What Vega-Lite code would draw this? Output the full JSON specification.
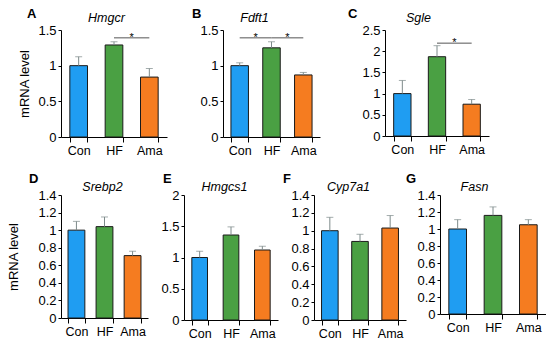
{
  "$schema": "https://vega.github.io/schema/vega-lite/v6.json",
  "padding": {"left": 7, "top": 8, "right": 0, "bottom": 0},
  "spacing": 16,
  "config": {
    "font": "Liberation Sans",
    "view": {"stroke": null},
    "concat": {"spacing": 0},
    "axis": {"grid": false, "domainColor": "#000", "tickColor": "#000", "labelColor": "#000", "titleColor": "#000"},
    "axisY": {"labelFontSize": 13, "tickSize": 3, "labelPadding": 2, "titleFontSize": 13, "titleFontWeight": "normal", "titlePadding": 4},
    "axisX": {"labelFontSize": 12.5, "tickSize": 5, "labelPadding": 2, "labelAngle": 0, "titleFontSize": 12.5, "titleFontStyle": "italic", "titleFontWeight": "normal", "titlePadding": 6},
    "title": {"fontSize": 13, "fontWeight": "bold", "anchor": "start", "frame": "group", "color": "#000"}
  },
  "datasets": {
    "bars": [
      {"panel": "A", "group": "Con", "mean": 1.0, "err": 1.125},
      {"panel": "A", "group": "HF", "mean": 1.29, "err": 1.335},
      {"panel": "A", "group": "Ama", "mean": 0.84, "err": 0.96},
      {"panel": "B", "group": "Con", "mean": 1.0, "err": 1.04},
      {"panel": "B", "group": "HF", "mean": 1.25, "err": 1.335},
      {"panel": "B", "group": "Ama", "mean": 0.87, "err": 0.905},
      {"panel": "C", "group": "Con", "mean": 1.0, "err": 1.31},
      {"panel": "C", "group": "HF", "mean": 1.87, "err": 2.13},
      {"panel": "C", "group": "Ama", "mean": 0.75, "err": 0.86},
      {"panel": "D", "group": "Con", "mean": 1.0, "err": 1.1},
      {"panel": "D", "group": "HF", "mean": 1.04, "err": 1.15},
      {"panel": "D", "group": "Ama", "mean": 0.71, "err": 0.76},
      {"panel": "E", "group": "Con", "mean": 1.0, "err": 1.1},
      {"panel": "E", "group": "HF", "mean": 1.36, "err": 1.49},
      {"panel": "E", "group": "Ama", "mean": 1.12, "err": 1.18},
      {"panel": "F", "group": "Con", "mean": 1.0, "err": 1.15},
      {"panel": "F", "group": "HF", "mean": 0.88, "err": 0.96},
      {"panel": "F", "group": "Ama", "mean": 1.03, "err": 1.17},
      {"panel": "G", "group": "Con", "mean": 1.0, "err": 1.11},
      {"panel": "G", "group": "HF", "mean": 1.16, "err": 1.26},
      {"panel": "G", "group": "Ama", "mean": 1.05, "err": 1.11}
    ],
    "sig": [
      {"panel": "A", "from": "HF", "to": "Ama", "level": 1.39, "star": "*"},
      {"panel": "B", "from": "Con", "to": "HF", "level": 1.39, "star": "*"},
      {"panel": "B", "from": "HF", "to": "Ama", "level": 1.39, "star": "*"},
      {"panel": "C", "from": "HF", "to": "Ama", "level": 2.19, "star": "*"}
    ]
  },
  "vconcat": [
    {
      "hconcat": [
        {
          "width": 106, "height": 107,
          "title": {"text": "A", "dx": -34, "dy": 14},
          "layer": [
            {"data": {"name": "bars"}, "transform": [{"filter": "datum.panel === 'A'"}],
             "mark": {"type": "bar", "stroke": "#1a1a1a", "strokeWidth": 1},
             "encoding": {
               "x": {"field": "group", "type": "nominal", "scale": {"domain": ["Con", "HF", "Ama"], "paddingInner": 0.5, "paddingOuter": 0.25}, "axis": {"orient": "bottom", "title": null, "tickBand": "extent"}},
               "y": {"field": "mean", "type": "quantitative", "scale": {"domain": [0, 1.5], "nice": false}, "axis": {"values": [0, 0.5, 1, 1.5], "format": "~f", "title": "mRNA level", "minExtent": 26}},
               "color": {"field": "group", "type": "nominal", "scale": {"domain": ["Con", "HF", "Ama"], "range": ["#1f9df2", "#4aa043", "#f57c20"]}, "legend": null}
             }},
            {"data": {"name": "bars"}, "transform": [{"filter": "datum.panel === 'A'"}],
             "mark": {"type": "rule", "color": "#7d8a8a"},
             "encoding": {
               "x": {"field": "group", "type": "nominal", "axis": {"orient": "top", "title": "Hmgcr", "labels": false, "ticks": false, "domain": false, "titleX": 45}},
               "y": {"field": "mean", "type": "quantitative", "axis": null},
               "y2": {"field": "err"}
             }},
            {"data": {"name": "bars"}, "transform": [{"filter": "datum.panel === 'A'"}],
             "mark": {"type": "tick", "color": "#7d8a8a", "size": 7, "thickness": 1},
             "encoding": {
               "x": {"field": "group", "type": "nominal", "axis": null},
               "y": {"field": "err", "type": "quantitative", "axis": null}
             }},
            {"data": {"name": "sig"}, "transform": [{"filter": "datum.panel === 'A'"}],
             "mark": {"type": "rule", "color": "#555"},
             "encoding": {
               "x": {"field": "from", "type": "nominal", "axis": null},
               "x2": {"field": "to"},
               "y": {"field": "level", "type": "quantitative", "axis": null}
             }},
            {"data": {"name": "sig"}, "transform": [{"filter": "datum.panel === 'A'"}],
             "mark": {"type": "text", "fontSize": 11, "color": "#000"},
             "encoding": {
               "x": {"field": "from", "type": "nominal", "bandPosition": 1.5, "axis": null},
               "y": {"field": "level", "type": "quantitative", "axis": null},
               "text": {"field": "star"}
             }}
          ],
          "resolve": {"axis": {"x": "independent", "y": "independent"}}
        },
        {
          "width": 97, "height": 107,
          "title": {"text": "B", "dx": -31, "dy": 14},
          "layer": [
            {"data": {"name": "bars"}, "transform": [{"filter": "datum.panel === 'B'"}],
             "mark": {"type": "bar", "stroke": "#1a1a1a", "strokeWidth": 1},
             "encoding": {
               "x": {"field": "group", "type": "nominal", "scale": {"domain": ["Con", "HF", "Ama"], "paddingInner": 0.45, "paddingOuter": 0.25}, "axis": {"orient": "bottom", "title": null, "tickBand": "extent"}},
               "y": {"field": "mean", "type": "quantitative", "scale": {"domain": [0, 1.5], "nice": false}, "axis": {"values": [0, 0.5, 1, 1.5], "format": "~f", "title": null, "minExtent": 56}},
               "color": {"field": "group", "type": "nominal", "scale": {"domain": ["Con", "HF", "Ama"], "range": ["#1f9df2", "#4aa043", "#f57c20"]}, "legend": null}
             }},
            {"data": {"name": "bars"}, "transform": [{"filter": "datum.panel === 'B'"}],
             "mark": {"type": "rule", "color": "#7d8a8a"},
             "encoding": {
               "x": {"field": "group", "type": "nominal", "axis": {"orient": "top", "title": "Fdft1", "labels": false, "ticks": false, "domain": false, "titleX": 31}},
               "y": {"field": "mean", "type": "quantitative", "axis": null},
               "y2": {"field": "err"}
             }},
            {"data": {"name": "bars"}, "transform": [{"filter": "datum.panel === 'B'"}],
             "mark": {"type": "tick", "color": "#7d8a8a", "size": 7, "thickness": 1},
             "encoding": {
               "x": {"field": "group", "type": "nominal", "axis": null},
               "y": {"field": "err", "type": "quantitative", "axis": null}
             }},
            {"data": {"name": "sig"}, "transform": [{"filter": "datum.panel === 'B'"}],
             "mark": {"type": "rule", "color": "#555"},
             "encoding": {
               "x": {"field": "from", "type": "nominal", "axis": null},
               "x2": {"field": "to"},
               "y": {"field": "level", "type": "quantitative", "axis": null}
             }},
            {"data": {"name": "sig"}, "transform": [{"filter": "datum.panel === 'B'"}],
             "mark": {"type": "text", "fontSize": 11, "color": "#000"},
             "encoding": {
               "x": {"field": "from", "type": "nominal", "bandPosition": 1.41, "axis": null},
               "y": {"field": "level", "type": "quantitative", "axis": null},
               "text": {"field": "star"}
             }}
          ],
          "resolve": {"axis": {"x": "independent", "y": "independent"}}
        },
        {
          "width": 104, "height": 106,
          "title": {"text": "C", "dx": -37, "dy": 14},
          "layer": [
            {"data": {"name": "bars"}, "transform": [{"filter": "datum.panel === 'C'"}],
             "mark": {"type": "bar", "stroke": "#1a1a1a", "strokeWidth": 1},
             "encoding": {
               "x": {"field": "group", "type": "nominal", "scale": {"domain": ["Con", "HF", "Ama"], "paddingInner": 0.5, "paddingOuter": 0.25}, "axis": {"orient": "bottom", "title": null, "tickBand": "extent"}},
               "y": {"field": "mean", "type": "quantitative", "scale": {"domain": [0, 2.5], "nice": false}, "axis": {"values": [0, 0.5, 1, 1.5, 2, 2.5], "format": "~f", "title": null, "minExtent": 65}},
               "color": {"field": "group", "type": "nominal", "scale": {"domain": ["Con", "HF", "Ama"], "range": ["#1f9df2", "#4aa043", "#f57c20"]}, "legend": null}
             }},
            {"data": {"name": "bars"}, "transform": [{"filter": "datum.panel === 'C'"}],
             "mark": {"type": "rule", "color": "#7d8a8a"},
             "encoding": {
               "x": {"field": "group", "type": "nominal", "axis": {"orient": "top", "title": "Sgle", "labels": false, "ticks": false, "domain": false, "titleX": 33}},
               "y": {"field": "mean", "type": "quantitative", "axis": null},
               "y2": {"field": "err"}
             }},
            {"data": {"name": "bars"}, "transform": [{"filter": "datum.panel === 'C'"}],
             "mark": {"type": "tick", "color": "#7d8a8a", "size": 7, "thickness": 1},
             "encoding": {
               "x": {"field": "group", "type": "nominal", "axis": null},
               "y": {"field": "err", "type": "quantitative", "axis": null}
             }},
            {"data": {"name": "sig"}, "transform": [{"filter": "datum.panel === 'C'"}],
             "mark": {"type": "rule", "color": "#555"},
             "encoding": {
               "x": {"field": "from", "type": "nominal", "axis": null},
               "x2": {"field": "to"},
               "y": {"field": "level", "type": "quantitative", "axis": null}
             }},
            {"data": {"name": "sig"}, "transform": [{"filter": "datum.panel === 'C'"}],
             "mark": {"type": "text", "fontSize": 11, "color": "#000"},
             "encoding": {
               "x": {"field": "from", "type": "nominal", "bandPosition": 1.5, "axis": null},
               "y": {"field": "level", "type": "quantitative", "axis": null},
               "text": {"field": "star"}
             }}
          ],
          "resolve": {"axis": {"x": "independent", "y": "independent"}}
        }
      ]
    },
    {
      "hconcat": [
        {
          "width": 87, "height": 123,
          "title": {"text": "D", "dx": -32, "dy": 10},
          "layer": [
            {"data": {"name": "bars"}, "transform": [{"filter": "datum.panel === 'D'"}],
             "mark": {"type": "bar", "stroke": "#1a1a1a", "strokeWidth": 1},
             "encoding": {
               "x": {"field": "group", "type": "nominal", "scale": {"domain": ["Con", "HF", "Ama"], "paddingInner": 0.4, "paddingOuter": 0.25}, "axis": {"orient": "bottom", "title": null, "tickBand": "extent"}},
               "y": {"field": "mean", "type": "quantitative", "scale": {"domain": [0, 1.4], "nice": false}, "axis": {"values": [0, 0.2, 0.4, 0.6, 0.8, 1, 1.2, 1.4], "format": "~f", "title": "mRNA level", "minExtent": 37}},
               "color": {"field": "group", "type": "nominal", "scale": {"domain": ["Con", "HF", "Ama"], "range": ["#1f9df2", "#4aa043", "#f57c20"]}, "legend": null}
             }},
            {"data": {"name": "bars"}, "transform": [{"filter": "datum.panel === 'D'"}],
             "mark": {"type": "rule", "color": "#7d8a8a"},
             "encoding": {
               "x": {"field": "group", "type": "nominal", "axis": {"orient": "top", "title": "Srebp2", "labels": false, "ticks": false, "domain": false, "titleX": 41, "titlePadding": 2}},
               "y": {"field": "mean", "type": "quantitative", "axis": null},
               "y2": {"field": "err"}
             }},
            {"data": {"name": "bars"}, "transform": [{"filter": "datum.panel === 'D'"}],
             "mark": {"type": "tick", "color": "#7d8a8a", "size": 7, "thickness": 1},
             "encoding": {
               "x": {"field": "group", "type": "nominal", "axis": null},
               "y": {"field": "err", "type": "quantitative", "axis": null}
             }}
          ],
          "resolve": {"axis": {"x": "independent", "y": "independent"}}
        },
        {
          "width": 94, "height": 125,
          "title": {"text": "E", "dx": -21, "dy": 10},
          "layer": [
            {"data": {"name": "bars"}, "transform": [{"filter": "datum.panel === 'E'"}],
             "mark": {"type": "bar", "stroke": "#1a1a1a", "strokeWidth": 1},
             "encoding": {
               "x": {"field": "group", "type": "nominal", "scale": {"domain": ["Con", "HF", "Ama"], "paddingInner": 0.5, "paddingOuter": 0.25}, "axis": {"orient": "bottom", "title": null, "tickBand": "extent"}},
               "y": {"field": "mean", "type": "quantitative", "scale": {"domain": [0, 2], "nice": false}, "axis": {"values": [0, 0.5, 1, 1.5, 2], "format": "~f", "title": null, "minExtent": 36}},
               "color": {"field": "group", "type": "nominal", "scale": {"domain": ["Con", "HF", "Ama"], "range": ["#1f9df2", "#4aa043", "#f57c20"]}, "legend": null}
             }},
            {"data": {"name": "bars"}, "transform": [{"filter": "datum.panel === 'E'"}],
             "mark": {"type": "rule", "color": "#7d8a8a"},
             "encoding": {
               "x": {"field": "group", "type": "nominal", "axis": {"orient": "top", "title": "Hmgcs1", "labels": false, "ticks": false, "domain": false, "titleX": 40, "titlePadding": 2}},
               "y": {"field": "mean", "type": "quantitative", "axis": null},
               "y2": {"field": "err"}
             }},
            {"data": {"name": "bars"}, "transform": [{"filter": "datum.panel === 'E'"}],
             "mark": {"type": "tick", "color": "#7d8a8a", "size": 7, "thickness": 1},
             "encoding": {
               "x": {"field": "group", "type": "nominal", "axis": null},
               "y": {"field": "err", "type": "quantitative", "axis": null}
             }}
          ],
          "resolve": {"axis": {"x": "independent", "y": "independent"}}
        },
        {
          "width": 92, "height": 125,
          "title": {"text": "F", "dx": -31, "dy": 10},
          "layer": [
            {"data": {"name": "bars"}, "transform": [{"filter": "datum.panel === 'F'"}],
             "mark": {"type": "bar", "stroke": "#1a1a1a", "strokeWidth": 1},
             "encoding": {
               "x": {"field": "group", "type": "nominal", "scale": {"domain": ["Con", "HF", "Ama"], "paddingInner": 0.45, "paddingOuter": 0.25}, "axis": {"orient": "bottom", "title": null, "tickBand": "extent"}},
               "y": {"field": "mean", "type": "quantitative", "scale": {"domain": [0, 1.4], "nice": false}, "axis": {"values": [0, 0.2, 0.4, 0.6, 0.8, 1, 1.2, 1.4], "format": "~f", "title": null, "minExtent": 36}},
               "color": {"field": "group", "type": "nominal", "scale": {"domain": ["Con", "HF", "Ama"], "range": ["#1f9df2", "#4aa043", "#f57c20"]}, "legend": null}
             }},
            {"data": {"name": "bars"}, "transform": [{"filter": "datum.panel === 'F'"}],
             "mark": {"type": "rule", "color": "#7d8a8a"},
             "encoding": {
               "x": {"field": "group", "type": "nominal", "axis": {"orient": "top", "title": "Cyp7a1", "labels": false, "ticks": false, "domain": false, "titleX": 34, "titlePadding": 2}},
               "y": {"field": "mean", "type": "quantitative", "axis": null},
               "y2": {"field": "err"}
             }},
            {"data": {"name": "bars"}, "transform": [{"filter": "datum.panel === 'F'"}],
             "mark": {"type": "tick", "color": "#7d8a8a", "size": 7, "thickness": 1},
             "encoding": {
               "x": {"field": "group", "type": "nominal", "axis": null},
               "y": {"field": "err", "type": "quantitative", "axis": null}
             }}
          ],
          "resolve": {"axis": {"x": "independent", "y": "independent"}}
        },
        {
          "width": 106, "height": 119,
          "title": {"text": "G", "dx": -34, "dy": 10},
          "layer": [
            {"data": {"name": "bars"}, "transform": [{"filter": "datum.panel === 'G'"}],
             "mark": {"type": "bar", "stroke": "#1a1a1a", "strokeWidth": 1},
             "encoding": {
               "x": {"field": "group", "type": "nominal", "scale": {"domain": ["Con", "HF", "Ama"], "paddingInner": 0.5, "paddingOuter": 0.25}, "axis": {"orient": "bottom", "title": null, "tickBand": "extent"}},
               "y": {"field": "mean", "type": "quantitative", "scale": {"domain": [0, 1.4], "nice": false}, "axis": {"values": [0, 0.2, 0.4, 0.6, 0.8, 1, 1.2, 1.4], "format": "~f", "title": null, "minExtent": 34}},
               "color": {"field": "group", "type": "nominal", "scale": {"domain": ["Con", "HF", "Ama"], "range": ["#1f9df2", "#4aa043", "#f57c20"]}, "legend": null}
             }},
            {"data": {"name": "bars"}, "transform": [{"filter": "datum.panel === 'G'"}],
             "mark": {"type": "rule", "color": "#7d8a8a"},
             "encoding": {
               "x": {"field": "group", "type": "nominal", "axis": {"orient": "top", "title": "Fasn", "labels": false, "ticks": false, "domain": false, "titleX": 34, "titlePadding": 2}},
               "y": {"field": "mean", "type": "quantitative", "axis": null},
               "y2": {"field": "err"}
             }},
            {"data": {"name": "bars"}, "transform": [{"filter": "datum.panel === 'G'"}],
             "mark": {"type": "tick", "color": "#7d8a8a", "size": 7, "thickness": 1},
             "encoding": {
               "x": {"field": "group", "type": "nominal", "axis": null},
               "y": {"field": "err", "type": "quantitative", "axis": null}
             }}
          ],
          "resolve": {"axis": {"x": "independent", "y": "independent"}}
        }
      ]
    }
  ]
}
